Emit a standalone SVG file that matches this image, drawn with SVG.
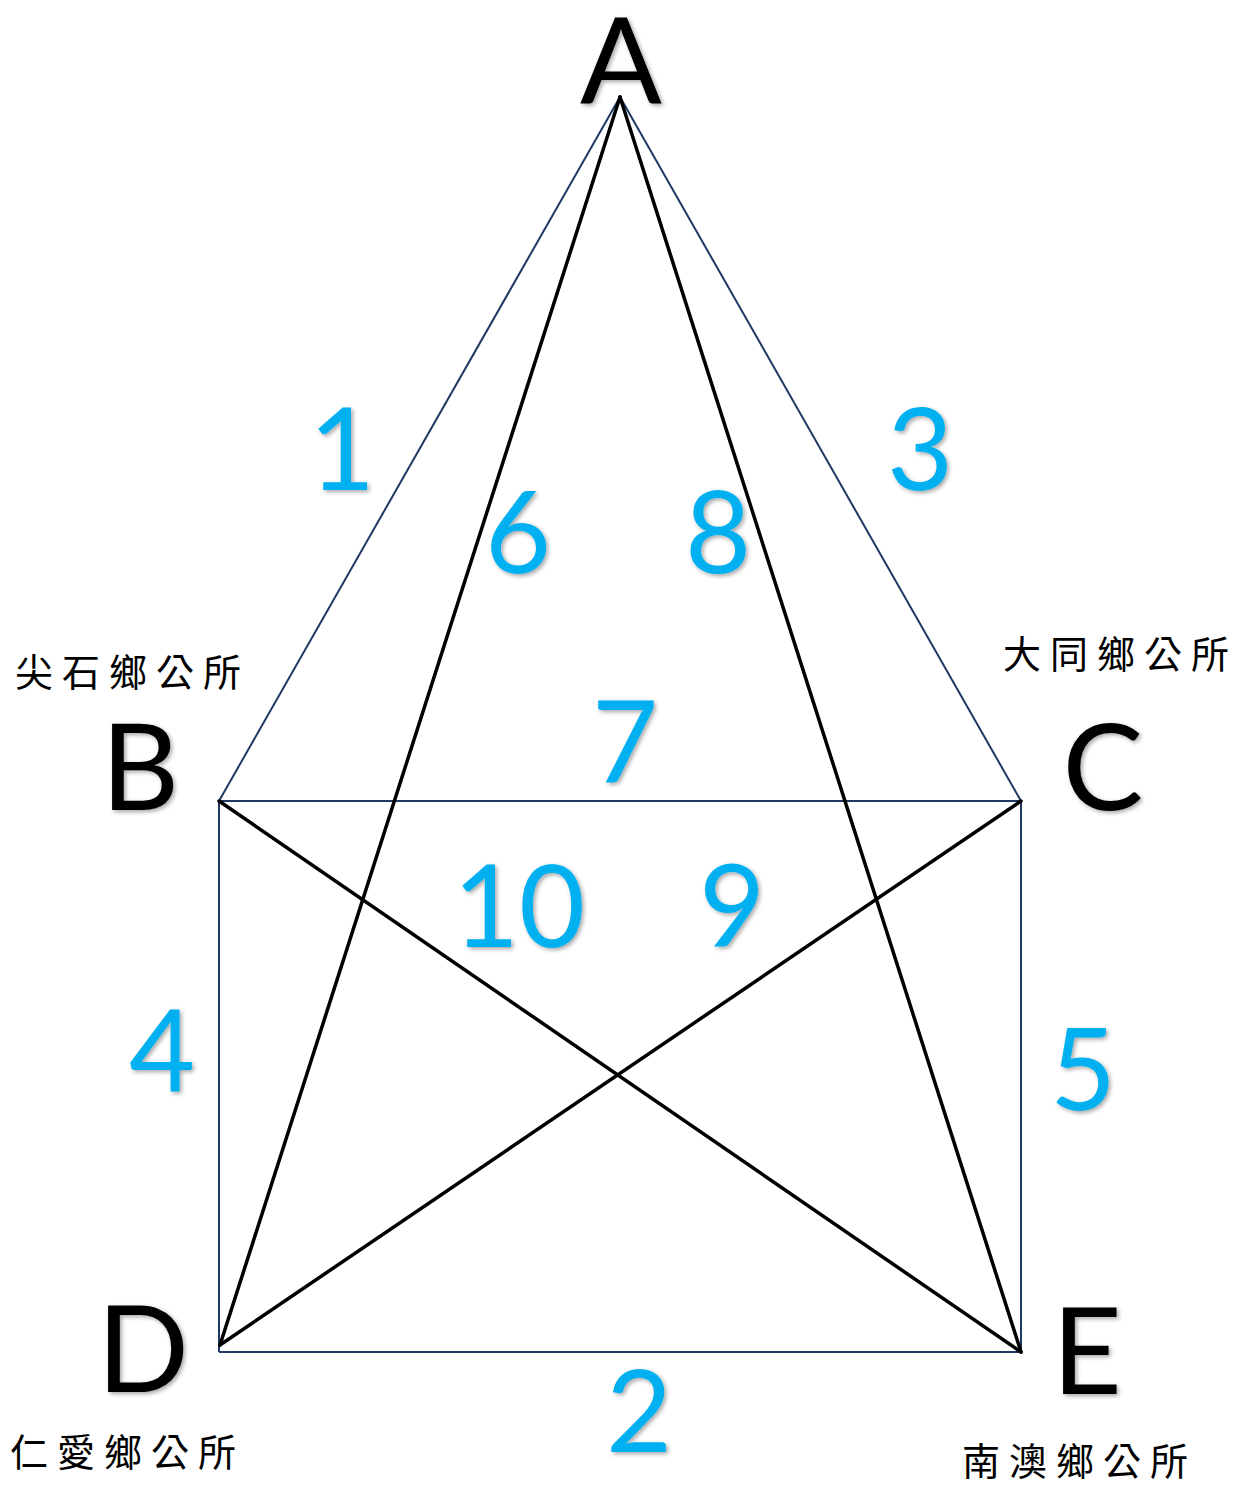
<svg xmlns="http://www.w3.org/2000/svg" width="1237" height="1485" viewBox="0 0 1237 1485">
<defs>
<filter id="sh" x="-30%" y="-30%" width="160%" height="160%">
<feDropShadow dx="2" dy="2" stdDeviation="2" flood-color="#000" flood-opacity="0.35"/>
</filter>
<style>
.thin{stroke:#1F3864;stroke-width:2;fill:none}
.thick{stroke:#000;stroke-width:3.5;fill:none;stroke-linecap:round}
.let{font-family:Lato,"Liberation Sans",sans-serif;font-size:121px;fill:#000;text-anchor:middle;filter:url(#sh)}
.num{font-family:Lato,"Liberation Sans",sans-serif;font-size:114px;fill:#00B0F0;text-anchor:middle;filter:url(#sh)}
.zh{font-family:"Noto Sans CJK TC",sans-serif;font-size:38px;fill:#000;letter-spacing:9px}
</style>
</defs>
<rect width="1237" height="1485" fill="#fff"/>
<g id="connectors">
<line class="thin" x1="620" y1="97" x2="219" y2="801"/>
<line class="thin" x1="620" y1="97" x2="1021" y2="801"/>
<line class="thin" x1="219" y1="801" x2="1021" y2="801"/>
<line class="thin" x1="219" y1="801" x2="219" y2="1352"/>
<line class="thin" x1="1021" y1="801" x2="1021" y2="1352"/>
<line class="thin" x1="219" y1="1352" x2="1021" y2="1352"/>
<line class="thick" x1="620" y1="97" x2="220" y2="1345"/>
<line class="thick" x1="620" y1="97" x2="1021" y2="1352"/>
<line class="thick" x1="219" y1="801" x2="1021" y2="1352"/>
<line class="thick" x1="1021" y1="801" x2="220" y2="1345"/>
</g>
<g id="node-A"><text class="let" x="621" y="104">A</text></g>
<g id="node-B"><text class="let" x="140" y="810">B</text><text class="zh" x="15" y="686">尖石鄉公所</text></g>
<g id="node-C"><text class="let" x="1103" y="810">C</text><text class="zh" x="1003" y="668">大同鄉公所</text></g>
<g id="node-D"><text class="let" x="143" y="1392">D</text><text class="zh" x="10" y="1466">仁愛鄉公所</text></g>
<g id="node-E"><text class="let" x="1087" y="1394">E</text><text class="zh" x="962" y="1475">南澳鄉公所</text></g>
<g id="labels">
<text class="num" x="342" y="490">1</text>
<text class="num" x="920" y="490">3</text>
<text class="num" x="518" y="573">6</text>
<text class="num" x="718" y="573">8</text>
<text class="num" x="625" y="783">7</text>
<text class="num" x="519" y="947">10</text>
<text class="num" x="732" y="947">9</text>
<text class="num" x="162" y="1092">4</text>
<text class="num" x="1083" y="1110">5</text>
<text class="num" x="639" y="1452">2</text>
</g>
</svg>
